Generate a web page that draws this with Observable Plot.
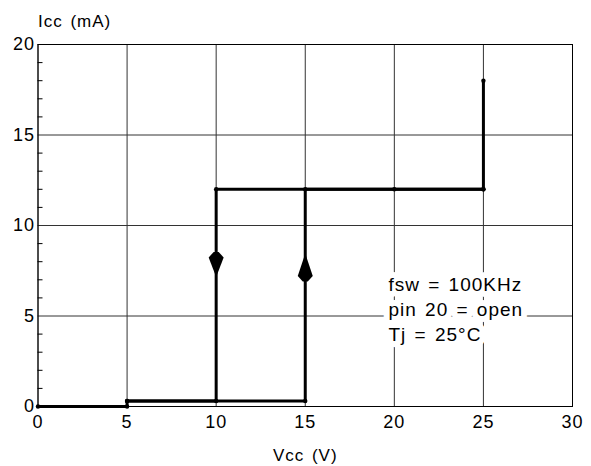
<!DOCTYPE html>
<html>
<head>
<meta charset="utf-8">
<script src="https://cdn.jsdelivr.net/npm/d3@7"></script>
<script src="https://cdn.jsdelivr.net/npm/@observablehq/plot@0.6"></script>
<style>
  html, body { margin: 0; padding: 0; background: white; }
  #chart svg { display: block; }
</style>
</head>
<body>
<div id="chart"></div>
<script>
// Rising branch (Vcc increasing)
const upV = [0, 5, 5, 15, 15, 20, 25, 25];
const upI = [0, 0, 0.3, 0.3, 12, 12, 12, 18];
// Falling branch (Vcc decreasing)
const downV = [25, 10, 10, 5];
const downI = [12, 12, 0.3, 0.3];
// Direction arrows
const arrowDown = [{v: 10, i: 7.85}];
const arrowUp = [{v: 15, i: 7.68}];
// Ticks
const xTicks = [0, 5, 10, 15, 20, 25, 30];
const yTicks = [0, 5, 10, 15, 20];
const yMinor = [1, 2, 3, 4, 6, 7, 8, 9, 11, 12, 13, 14, 16, 17, 18, 19];
// Texts
const xLabel = "Vcc (V)";
const yLabel = "Icc (mA)";
const note = ["fsw = 100KHz", "pin 20 = open", "Tj = 25°C"];
const noteAt = [{v: 19.67, i: 7.34}];

const up = upV.map((v, k) => ({v, i: upI[k]}));
const down = downV.map((v, k) => ({v, i: downI[k]}));

const downSymbol = {
  draw(ctx) {
    ctx.moveTo(-2.5, -12.5); ctx.lineTo(2.5, -12.5); ctx.lineTo(7.5, -7);
    ctx.lineTo(0, 12.5); ctx.lineTo(-7.5, -7); ctx.closePath();
  }
};
const upSymbol = {
  draw(ctx) {
    ctx.moveTo(-2.5, 14); ctx.lineTo(2.5, 14); ctx.lineTo(7.5, 8.5);
    ctx.lineTo(0, -14); ctx.lineTo(-7.5, 8.5); ctx.closePath();
  }
};

const chart = Plot.plot({
  width: 591,
  height: 466,
  marginLeft: 37.5,
  marginRight: 19,
  marginTop: 44,
  marginBottom: 60,
  style: {fontFamily: "'Liberation Sans', Arial, Helvetica, sans-serif", fontSize: "18px", color: "black", background: "white", letterSpacing: "1px"},
  x: {domain: [0, 30]},
  y: {domain: [0, 20]},
  marks: [
    Plot.gridX(xTicks, {stroke: "#333", strokeOpacity: 1, strokeWidth: 1}),
    Plot.gridY(yTicks, {stroke: "#333", strokeOpacity: 1, strokeWidth: 1}),
    Plot.axisY(yMinor, {tickSize: 5, dx: 5, tickFormat: () => "", label: null}),
    Plot.axisY(yTicks, {tickSize: 0, tickPadding: 3, fontSize: 18, label: null}),
    Plot.axisX(xTicks, {tickSize: 0, tickPadding: 9, fontSize: 18, label: null}),
    Plot.frame({stroke: "black", strokeWidth: 1}),
    Plot.text(noteAt, {x: "v", y: "i", text: () => note.join("\n"), textAnchor: "start", lineAnchor: "top",
      fontSize: 19, lineHeight: 1.316, fill: "black", stroke: "white", strokeWidth: 12, strokeLinejoin: "round"}),
    Plot.line(up, {x: "v", y: "i", stroke: "black", strokeWidth: 3, curve: "linear"}),
    Plot.line(down, {x: "v", y: "i", stroke: "black", strokeWidth: 3, curve: "linear"}),
    Plot.dot([...up, ...down], {x: "v", y: "i", r: 2.2, fill: "black"}),
    Plot.dot(arrowDown, {x: "v", y: "i", symbol: downSymbol, fill: "black", r: 5}),
    Plot.dot(arrowUp, {x: "v", y: "i", symbol: upSymbol, fill: "black", r: 5}),
    Plot.text([yLabel], {frameAnchor: "top-left", text: d => d, textAnchor: "start", lineAnchor: "middle", dx: 0, dy: -23, fontSize: 17}),
    Plot.text([xLabel], {frameAnchor: "bottom", text: d => d, textAnchor: "middle", lineAnchor: "middle", dy: 49, fontSize: 17})
  ]
});
chart.querySelectorAll("text").forEach(t => t.style.wordSpacing = "2px");
document.getElementById("chart").appendChild(chart);
</script>
</body>
</html>
